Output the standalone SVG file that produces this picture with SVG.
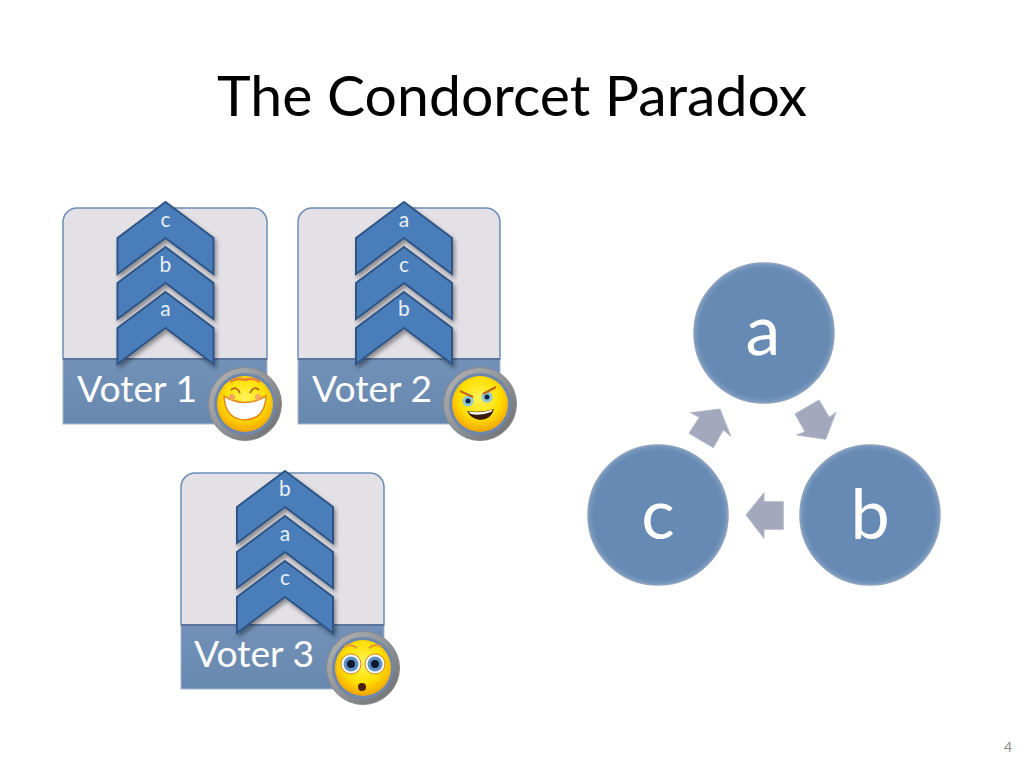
<svg xmlns="http://www.w3.org/2000/svg" width="1024" height="768" viewBox="0 0 1024 768">
<style>
text{font-family:"Lato","Liberation Sans",sans-serif}
.panel{fill:#e3e1e6;stroke:#6d8db8;stroke-width:1.5}
.band{fill:url(#bandG);stroke:#a9b8cc;stroke-width:1}
.bandtop{stroke:#47658f;stroke-width:1.5;fill:none}
.chev{fill:#4a7ebb;stroke:#2f5585;stroke-width:2;stroke-linejoin:miter;filter:url(#sh)}
.cl{fill:#e8f0fa;font-size:21px;text-anchor:middle}
.vl{fill:#fff;font-size:37px}
.big{fill:url(#circG);stroke:#8ea2bc;stroke-width:1.5}
.bl{fill:#fff;font-size:70px;text-anchor:middle}
.arr{fill:#a3a8bd;stroke:#b4b9ca;stroke-width:1}
.ring{fill:url(#ringG);stroke:#8a8a8a;stroke-width:1}
.ringi{fill:#6f87aa}
.face{fill:url(#faceG)}
</style>
<defs>
<linearGradient id="bandG" x1="0" y1="0" x2="0" y2="1"><stop offset="0" stop-color="#7391b8"/><stop offset="1" stop-color="#6788ae"/></linearGradient>
<radialGradient id="circG" cx="0.5" cy="0.5" r="0.5"><stop offset="0" stop-color="#668ab3"/><stop offset="0.92" stop-color="#668ab3"/><stop offset="1" stop-color="#7d9cc0"/></radialGradient>
<linearGradient id="ringG" x1="0" y1="0" x2="1" y2="1"><stop offset="0" stop-color="#b5b5b5"/><stop offset="0.5" stop-color="#8f949a"/><stop offset="1" stop-color="#6a6a6a"/></linearGradient>
<radialGradient id="faceG" cx="0.5" cy="0.4" r="0.6"><stop offset="0" stop-color="#fff35a"/><stop offset="0.6" stop-color="#ffe000"/><stop offset="1" stop-color="#f4a400"/></radialGradient>
<filter id="sh" x="-20%" y="-20%" width="140%" height="150%"><feDropShadow dx="2" dy="3" stdDeviation="2" flood-color="#000" flood-opacity="0.4"/></filter>
<path id="chevron" class="chev" d="M0 0L48 36V72L0 36L-48 72V36Z"/>
<g id="badge"><circle class="ring" r="36.500"/><circle class="ringi" r="31"/><circle class="face" r="28"/></g>
</defs>
<rect width="1024" height="768" fill="#fff"/>
<text id="title" x="512" y="116" font-size="56" text-anchor="middle" textLength="590" lengthAdjust="spacingAndGlyphs" fill="#000">The Condorcet Paradox</text>

<g id="voter1">
<path class="panel" d="M63 359V222a14 14 0 0 1 14-14H253a14 14 0 0 1 14 14V359Z"/>
<rect class="band" x="63" y="359" width="204" height="65"/>
<path class="bandtop" d="M63 359H267"/>
<use href="#chevron" x="165.500" y="202"/><use href="#chevron" x="165.500" y="247"/><use href="#chevron" x="165.500" y="292"/>
<text class="cl" x="165.500" y="227">c</text><text class="cl" x="165.500" y="272">b</text><text class="cl" x="165.500" y="316">a</text>
<text class="vl" x="77" y="402" textLength="120" lengthAdjust="spacingAndGlyphs">Voter 1</text>
<g id="smiley1" transform="translate(245 404)"><use href="#badge"/>
<path d="M-21 -8Q0 5 21 -8Q20 15 0 16Q-20 15 -21 -8Z" fill="#fff" stroke="#e8861a" stroke-width="1.500"/>
<path d="M-14 -14Q-9 -19 -5 -11M14 -14Q9 -19 5 -11" stroke="#b8651a" stroke-width="1.800" fill="none"/>
<circle cx="-13" cy="-7" r="3" fill="#f3a860"/><circle cx="13" cy="-7" r="3" fill="#f3a860"/>
<path d="M-15 -22Q-8 -27 0 -24Q8 -27 15 -22" stroke="#e8862a" stroke-width="2.500" fill="none"/>
</g></g>

<g id="voter2">
<path class="panel" d="M298 359V222a14 14 0 0 1 14-14H486a14 14 0 0 1 14 14V359Z"/>
<rect class="band" x="298" y="359" width="202" height="65"/>
<path class="bandtop" d="M298 359H500"/>
<use href="#chevron" x="404" y="202"/><use href="#chevron" x="404" y="247"/><use href="#chevron" x="404" y="292"/>
<text class="cl" x="404" y="227">a</text><text class="cl" x="404" y="272">c</text><text class="cl" x="404" y="316">b</text>
<text class="vl" x="312" y="402" textLength="120" lengthAdjust="spacingAndGlyphs">Voter 2</text>
<g id="smiley2" transform="translate(480 404)"><use href="#badge"/>
<circle cx="-12" cy="-3" r="5.500" fill="#8fc7d8"/><circle cx="7" cy="-7" r="5.500" fill="#8fc7d8"/>
<circle cx="-12" cy="-3" r="2.500" fill="#124"/><circle cx="7" cy="-7" r="2.500" fill="#124"/>
<path d="M-20 -13L-7 -7M16 -17L3 -10" stroke="#c0641a" stroke-width="2" fill="none"/>
<path d="M-13 7Q2 9 14 5Q11 16 0 16Q-9 15 -13 7Z" fill="#3a1a08"/>
<path d="M-12 7.500Q2 9.500 13 5.500L11 8Q1 12 -9 10Z" fill="#fff"/>
</g></g>

<g id="voter3">
<path class="panel" d="M181 625V487a14 14 0 0 1 14-14H370a14 14 0 0 1 14 14V625Z"/>
<rect class="band" x="181" y="625" width="203" height="64"/>
<path class="bandtop" d="M181 625H384"/>
<use href="#chevron" x="285" y="471"/><use href="#chevron" x="285" y="516"/><use href="#chevron" x="285" y="561"/>
<text class="cl" x="285" y="496">b</text><text class="cl" x="285" y="541">a</text><text class="cl" x="285" y="585">c</text>
<text class="vl" x="194" y="667" textLength="120" lengthAdjust="spacingAndGlyphs">Voter 3</text>
<g id="smiley3" transform="translate(363 668)"><use href="#badge"/>
<circle cx="-12" cy="-4" r="10" fill="#fff" stroke="#d9852a" stroke-width="1"/><circle cx="12" cy="-4" r="10" fill="#fff" stroke="#d9852a" stroke-width="1"/>
<circle cx="-12" cy="-4" r="7.500" fill="#5c8fc4"/><circle cx="12" cy="-4" r="7.500" fill="#5c8fc4"/>
<circle cx="-12" cy="-4" r="4" fill="#0c1a30"/><circle cx="12" cy="-4" r="4" fill="#0c1a30"/>
<path d="M-19 -21Q-12 -25 -6 -20M6 -20Q12 -25 19 -21" stroke="#e0a030" stroke-width="2.200" fill="none"/>
<ellipse cx="-1" cy="19" rx="4" ry="4" fill="#4a2008"/>
</g></g>

<g id="connectors">
<polygon class="arr" points="690.700,412.700 720,409 730.700,436 723.300,430 713.300,447.700 689,433.300 699.300,417.300"/>
<polygon class="arr" points="819,400 795,414 805,431.700 796.700,435 825.700,439.300 836,412.300 829.300,417.300"/>
<polygon class="arr" points="746,515 764,492.700 764,501.700 783.300,501.700 783.300,529.300 764,529.300 764,538.300"/>
</g>

<g id="node-a"><circle class="big" cx="764" cy="333" r="70"/><text class="bl" x="763" y="355">a</text></g>
<g id="node-b"><circle class="big" cx="870" cy="515" r="70"/><text class="bl" x="870" y="539">b</text></g>
<g id="node-c"><circle class="big" cx="658" cy="515" r="70"/><text class="bl" x="658" y="539">c</text></g>

<text id="page" x="1008" y="752" font-size="14" text-anchor="middle" fill="#8a8a8a">4</text>
</svg>
